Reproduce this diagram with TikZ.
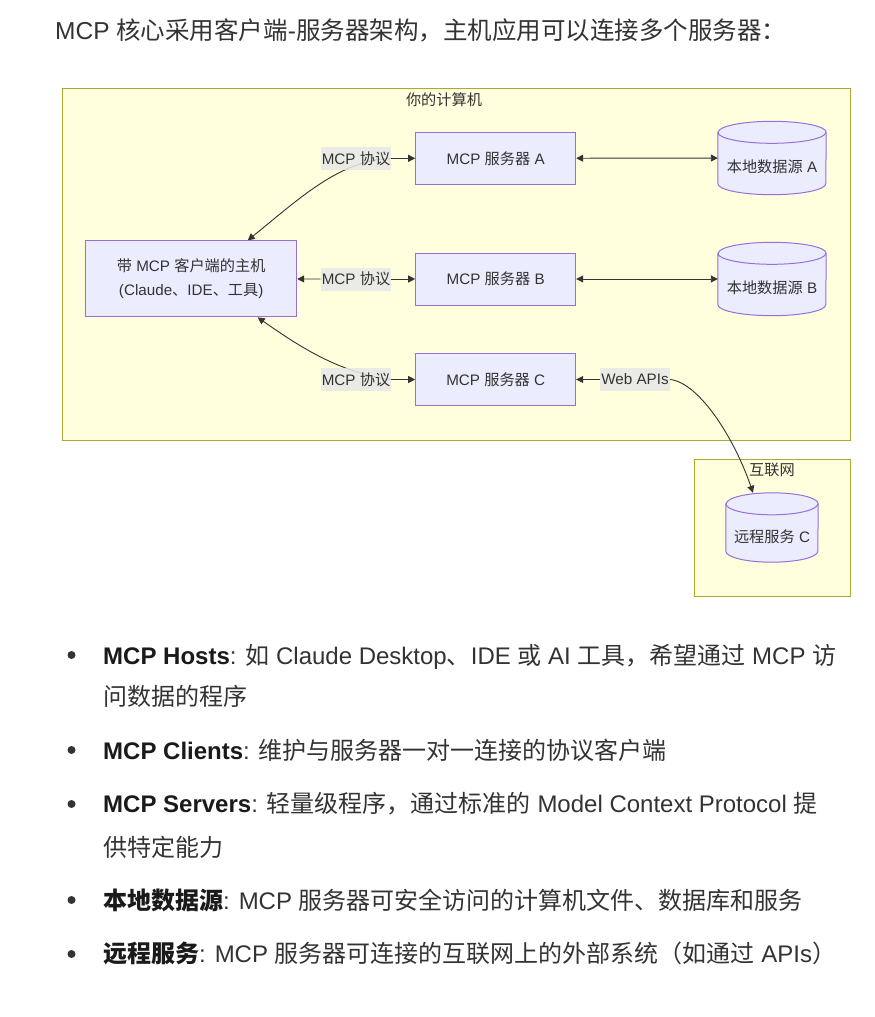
\documentclass[tikz,border=0pt]{standalone}
\usepackage{fontspec}
\setmainfont{Liberation Sans}
\newfontfamily\cjkfont{Noto Sans CJK SC}
\newfontfamily\latinfont{Liberation Sans}
\usetikzlibrary{arrows.meta,positioning,calc}

% CJK characters switch to the CJK family on their own
\XeTeXinterchartokenstate=1
\newXeTeXintercharclass\cjkclass
\newcount\cjkcode
\def\setcjkrange#1#2{\cjkcode=#1\relax
  \loop \XeTeXcharclass\cjkcode=\cjkclass
  \ifnum\cjkcode<#2\relax \advance\cjkcode by 1 \repeat}
\setcjkrange{"3000}{"303F}
\setcjkrange{"4E00}{"9FFF}
\setcjkrange{"FF00}{"FFEF}
\XeTeXinterchartoks 0 \cjkclass = {\cjkfont}
\XeTeXinterchartoks 4095 \cjkclass = {\cjkfont}
\XeTeXinterchartoks \cjkclass 0 = {\latinfont}
\XeTeXinterchartoks \cjkclass 4095 = {\latinfont}

\definecolor{nodefill}{HTML}{ECECFF}
\definecolor{nodeline}{HTML}{9370DB}
\definecolor{grpfill}{HTML}{FFFFDE}
\definecolor{grpline}{HTML}{AAAA33}
\definecolor{edgebg}{HTML}{E8E8E8}
\definecolor{ink}{HTML}{333333}
\definecolor{dark}{HTML}{1A1A1A}

\newcommand\diagfont{\fontsize{15.2}{24}\selectfont}
\newcommand\bodyfont{\fontsize{24}{28}\selectfont}

\pgfdeclarelayer{groups}
\pgfdeclarelayer{edges}
\pgfsetlayers{groups,edges,main}

\tikzset{
  box/.style={draw=nodeline, fill=nodefill, line width=1pt, minimum width=160pt,
    minimum height=52pt, text=ink, font=\diagfont, align=center},
  dbase/.style={inner sep=0pt, minimum width=108pt, minimum height=73pt,
    text height=51pt, text depth=22pt, text=ink, font=\diagfont},
  drum/.style={draw=nodeline, fill=nodefill, line width=1pt},
  lbl/.style={fill=edgebg, fill opacity=0.85, text opacity=1, inner xsep=1pt,
    inner ysep=0pt, minimum width=70pt, minimum height=23pt, text=ink, font=\diagfont},
  grp/.style={draw=grpline, fill=grpfill, line width=1pt},
  grplabel/.style={text=ink, font=\diagfont},
  conn/.style={draw=ink, line width=0.9pt, -{Triangle[length=7pt,width=7pt]}},
  both/.style={draw=ink, line width=0.9pt, {Triangle[length=7pt,width=7pt]}-{Triangle[length=7pt,width=7pt]}},
  line/.style={anchor=base west, text=ink, font=\bodyfont, inner sep=0pt},
}

\begin{document}
\begin{tikzpicture}[x=1pt,y=-1pt]
\useasboundingbox (0,0) rectangle (875,1017);

% Row heights of the three servers
\def\rowA{158.3}
\def\rowB{279}
\def\rowC{379.5}
\def\lid{11pt}   % half height of a drum's lid

% Heading
\node[line, font=\fontsize{24.5}{28}\selectfont] (head) at (55,39.5) {MCP 核心采用客户端-服务器架构，主机应用可以连接多个服务器：};

% Groups
\begin{pgfonlayer}{groups}
\draw[grp] (62,88) rectangle (850,440);
\draw[grp] (694,459) rectangle (850,596);
\end{pgfonlayer}
\node[grplabel] (pc) at (444,100) {你的计算机};
\node[grplabel] (net) at (772,470) {互联网};

% Host and servers
\node[box, minimum width=211pt, minimum height=76pt] (host) at (191.2,278.9)
  {带 MCP 客户端的主机\\(Claude、IDE、工具)};
\node[box] (srvA) at (495.7,\rowA) {MCP 服务器 A};
\node[box] (srvB) at (495.7,\rowB) {MCP 服务器 B};
\node[box] (srvC) at (495.7,\rowC) {MCP 服务器 C};

% Data sources
\node[dbase] (dbA) at (772,158) {本地数据源 A};
\node[dbase] (dbB) at (772,279) {本地数据源 B};
\node[dbase, minimum width=92pt, minimum height=69pt, text height=49.7pt, text depth=19.3pt]
  (remC) at (772,527.5) {远程服务 C};

% Edge labels
\node[lbl] (lblA) at (356,\rowA) {MCP 协议};
\node[lbl] (lblB) at (356,\rowB) {MCP 协议};
\node[lbl] (lblC) at (356,\rowC) {MCP 协议};
\node[lbl] (lblW) at (635,\rowC) {Web APIs};

\begin{pgfonlayer}{edges}
% Drums behind the data source texts
\foreach \db/\rx in {dbA/54pt,dbB/54pt,remC/46pt}{
  \draw[drum] ([yshift=-\lid]\db.north west) -- ([yshift=\lid]\db.south west)
    arc[start angle=180, end angle=360, x radius=\rx, y radius=\lid]
    -- ([yshift=-\lid]\db.north east)
    arc[start angle=0, end angle=180, x radius=\rx, y radius=\lid] -- cycle;
  \draw[drum, fill=none] ([yshift=-\lid]\db.north west)
    arc[start angle=180, end angle=360, x radius=\rx, y radius=\lid];
}

% Edges
\draw[conn] (lblA.east) .. controls (340,160) and (300,198) .. ([xshift=56.5pt]host.north);
\draw[conn] (lblA.east) -- (srvA.west);
\draw[conn] (lblB) -- (host);
\draw[conn] (lblB) -- (srvB);
\draw[conn] (lblC.east) .. controls (340,373) and (300,347) .. ([xshift=66.5pt]host.south);
\draw[conn] (lblC.east) -- (srvC.west);
\draw[both] (srvA) -- (dbA);
\draw[both] (srvB) -- (dbB);
\draw[conn] (lblW) -- (srvC);
\draw[conn] (lblW.east) .. controls (700,383) and (735,440) .. ([xshift=-19pt]remC.north);
\end{pgfonlayer}

% Bullet list
\foreach \yy in {655,750,804,900,954}
  \fill[ink] (71.5,\yy) circle (4pt);
\node[line] (hosts1) at (103,664) {{\color{dark}\bfseries MCP Hosts}: 如 Claude Desktop、IDE 或 AI 工具，希望通过 MCP 访};
\node[line] (hosts2) at (103,705) {问数据的程序};
\node[line] (clients) at (103,759) {{\color{dark}\bfseries MCP Clients}: 维护与服务器一对一连接的协议客户端};
\node[line] (servers1) at (103,812) {{\color{dark}\bfseries MCP Servers}: 轻量级程序，通过标准的 Model Context Protocol 提};
\node[line] (servers2) at (103,856) {供特定能力};
\node[line] (local) at (103,909) {{\color{dark}\bfseries 本地数据源}: MCP 服务器可安全访问的计算机文件、数据库和服务};
\node[line] (remote) at (103,962) {{\color{dark}\bfseries 远程服务}: MCP 服务器可连接的互联网上的外部系统（如通过 APIs）};

\end{tikzpicture}
\end{document}
